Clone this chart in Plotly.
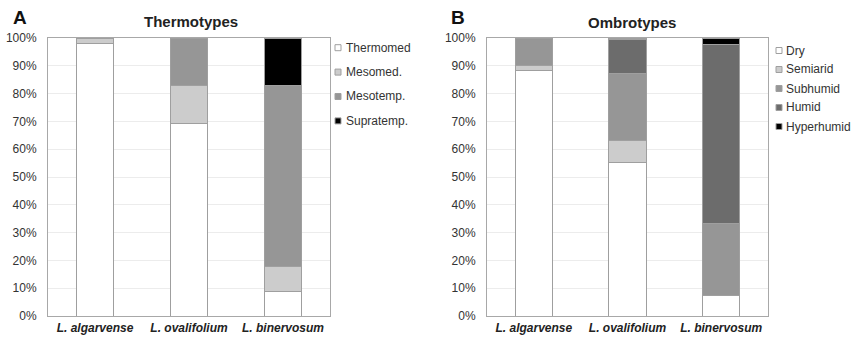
import plotly.graph_objects as go

species = ["L. algarvense", "L. ovalifolium", "L. binervosum"]
species_labels = ["<b><i>L. algarvense</i></b>", "<b><i>L. ovalifolium</i></b>", "<b><i>L. binervosum</i></b>"]

thermo_names = ["Thermomed", "Mesomed.", "Mesotemp.", "Supratemp."]
thermomed = [98.2, 69.1, 8.9]
mesomed = [1.8, 13.7, 8.8]
mesotemp = [0.0, 17.2, 65.3]
supratemp = [0.0, 0.0, 17.0]
thermo_values = [thermomed, mesomed, mesotemp, supratemp]

ombro_names = ["Dry", "Semiarid", "Subhumid", "Humid", "Hyperhumid"]
dry = [88.2, 55.3, 7.2]
semiarid = [2.0, 8.0, 0.0]
subhumid = [9.8, 23.8, 26.0]
humid = [0.0, 12.2, 64.6]
hyperhumid = [0.0, 0.7, 2.2]
ombro_values = [dry, semiarid, subhumid, humid, hyperhumid]

thermo_colors = ["#ffffff", "#cccccc", "#969696", "#000000"]
ombro_colors = ["#ffffff", "#cccccc", "#969696", "#6c6c6c", "#000000"]

FONT = "Liberation Sans, Arial, sans-serif"
TXT = "#333333"
W, H = 851, 337
OUTLINE = "#9f9f9f"

fig = go.Figure()
for name, vals, col in zip(thermo_names, thermo_values, thermo_colors):
    fig.add_trace(go.Bar(x=species, y=vals, name=name, marker=dict(color=col, line=dict(color=OUTLINE, width=1)),
                         width=0.4, xaxis="x", yaxis="y", showlegend=False, hoverinfo="skip"))
for name, vals, col in zip(ombro_names, ombro_values, ombro_colors):
    fig.add_trace(go.Bar(x=species, y=vals, name=name, marker=dict(color=col, line=dict(color=OUTLINE, width=1)),
                         width=0.4, xaxis="x2", yaxis="y2", showlegend=False, hoverinfo="skip"))

ydom = [(H - 316) / H, (H - 38) / H]
axis_common = dict(showline=True, linecolor="#a8a8a8", linewidth=1, mirror=True, automargin=False)
yaxis_common = dict(range=[0, 100], tickvals=list(range(0, 101, 10)),
                    ticktext=[f"{v}%" for v in range(0, 101, 10)],
                    showgrid=True, gridcolor="#ececec", gridwidth=1, zeroline=False,
                    tickfont=dict(family=FONT, size=12, color=TXT), ticks="", ticklabelstandoff=8, **axis_common)
xaxis_common = dict(tickvals=species, ticktext=species_labels, tickfont=dict(family=FONT, size=12, color="#222"),
                    ticks="", showgrid=False, range=[-0.5, 2.5], ticklabelstandoff=1, **axis_common)

shapes = []
annotations = []


def px_x(v):
    return v / W


def px_y(v):
    return (H - v) / H


def add_legend(names, colors, cx, y0, dy, size, tx):
    for i, (n, c) in enumerate(zip(names, colors)):
        cy = y0 + i * dy
        shapes.append(dict(type="rect", xref="paper", yref="paper",
                           x0=px_x(cx - size / 2), x1=px_x(cx + size / 2),
                           y0=px_y(cy + size / 2), y1=px_y(cy - size / 2),
                           fillcolor=c, line=dict(color=OUTLINE, width=1)))
        annotations.append(dict(text=n, x=px_x(tx), y=px_y(cy), xref="paper", yref="paper", showarrow=False,
                                xanchor="left", yanchor="middle", font=dict(family=FONT, size=12, color=TXT)))


add_legend(thermo_names, thermo_colors, 338, 47.7, 24.4, 6, 344)
add_legend(ombro_names, ombro_colors, 779, 50.5, 19.0, 6, 784)

annotations += [
    dict(text="<b>A</b>", x=px_x(11), y=px_y(18), xref="paper", yref="paper", showarrow=False,
         xanchor="left", yanchor="middle", font=dict(family=FONT, size=19, color="#111")),
    dict(text="<b>Thermotypes</b>", x=px_x(191), y=px_y(21.5), xref="paper", yref="paper", showarrow=False,
         xanchor="center", yanchor="middle", font=dict(family=FONT, size=15, color="#222")),
    dict(text="<b>B</b>", x=px_x(449), y=px_y(18), xref="paper", yref="paper", showarrow=False,
         xanchor="left", yanchor="middle", font=dict(family=FONT, size=19, color="#111")),
    dict(text="<b>Ombrotypes</b>", x=px_x(632), y=px_y(22.5), xref="paper", yref="paper", showarrow=False,
         xanchor="center", yanchor="middle", font=dict(family=FONT, size=15, color="#222")),
]

fig.update_layout(
    width=W, height=H, barmode="stack", plot_bgcolor="white", paper_bgcolor="white",
    margin=dict(l=0, r=0, t=0, b=0, autoexpand=False), showlegend=False,
    font=dict(family=FONT, color=TXT),
    xaxis=dict(domain=[48 / W, 330 / W], anchor="y", **xaxis_common),
    yaxis=dict(domain=ydom, anchor="x", **yaxis_common),
    xaxis2=dict(domain=[487 / W, 768 / W], anchor="y2", **xaxis_common),
    yaxis2=dict(domain=ydom, anchor="x2", **yaxis_common),
    shapes=shapes,
    annotations=annotations,
)

fig.write_html("out.html", config={"displayModeBar": False, "staticPlot": True},
               post_script="document.body.style.margin='0px';document.body.style.overflow='hidden';")
